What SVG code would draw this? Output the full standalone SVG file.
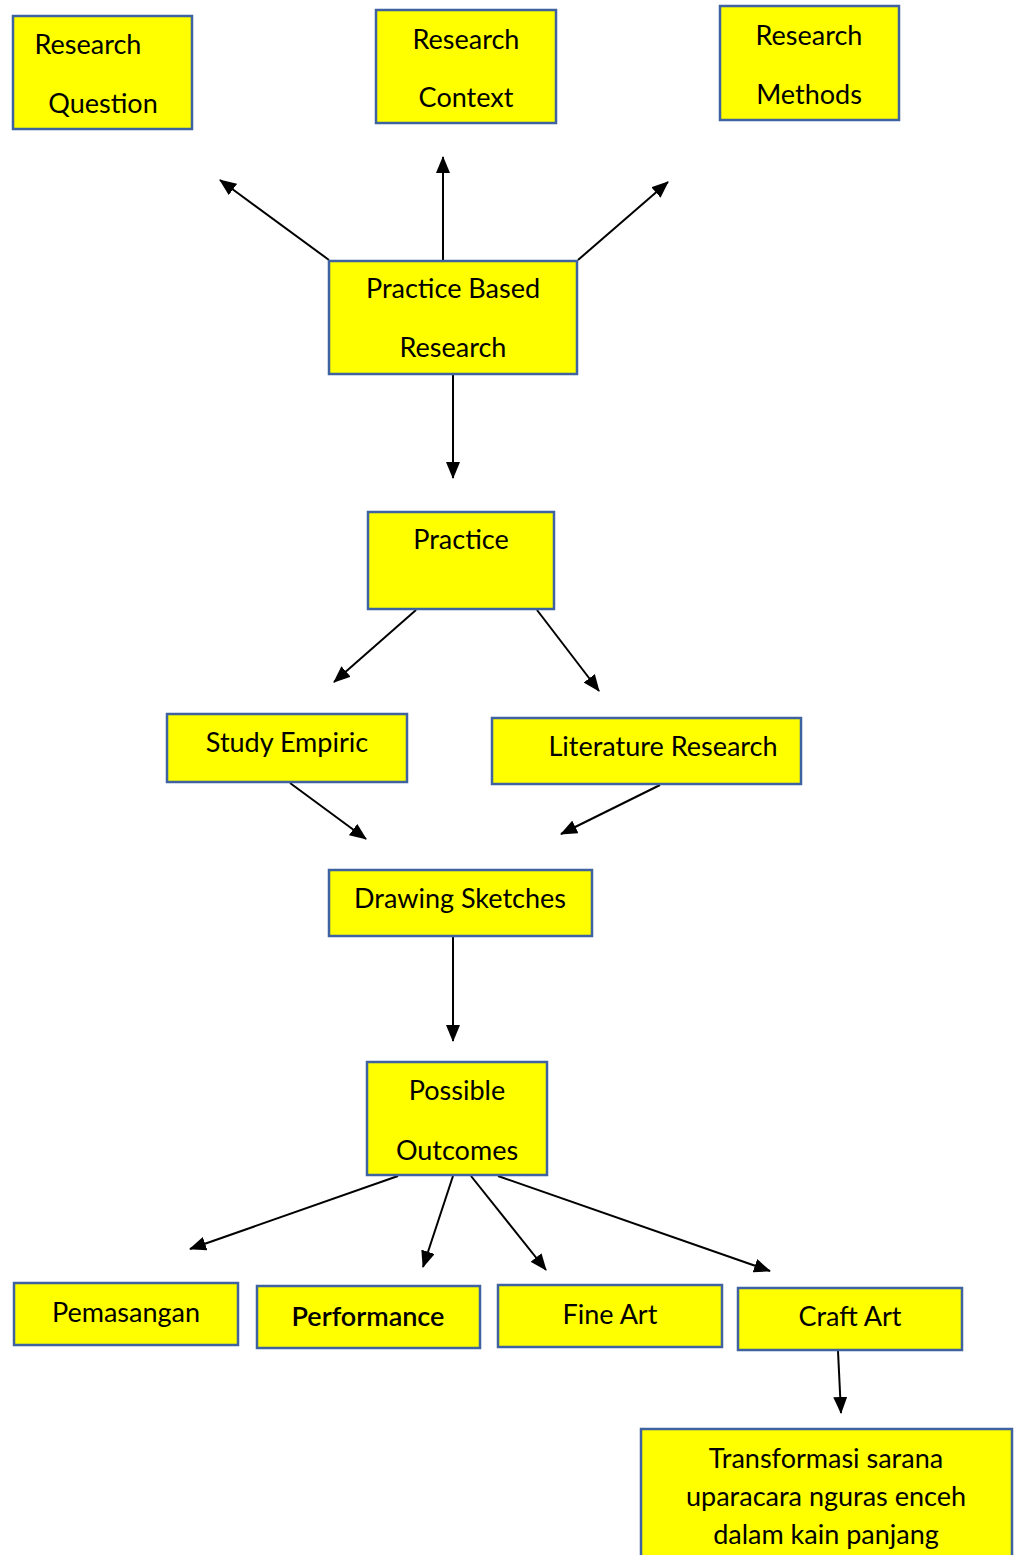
<svg xmlns="http://www.w3.org/2000/svg" width="1014" height="1555" viewBox="0 0 1014 1555">
<defs>
<style>
.box{fill:#ffff00;stroke:#3f62a0;stroke-width:2.5}
.t{font-family:Lato,"Liberation Sans",sans-serif;font-size:27px;fill:#000;text-anchor:middle}
.c{stroke:#000;stroke-width:2;fill:none;marker-end:url(#ah)}
</style>
<marker id="ah" markerUnits="userSpaceOnUse" markerWidth="17" markerHeight="14" refX="16" refY="7" orient="auto">
<path d="M0,0 L17,7 L0,14 Z" fill="#000"/>
</marker>
</defs>
<rect width="1014" height="1555" fill="#fff"/>
<g id="connectors">
<line class="c" x1="329" y1="260" x2="220" y2="180"/>
<line class="c" x1="443" y1="260" x2="443" y2="157"/>
<line class="c" x1="578" y1="260" x2="668" y2="182"/>
<line class="c" x1="453" y1="375" x2="453" y2="478"/>
<line class="c" x1="416" y1="610" x2="334" y2="682"/>
<line class="c" x1="537" y1="610" x2="599" y2="691"/>
<line class="c" x1="290" y1="783" x2="366" y2="839"/>
<line class="c" x1="660" y1="785" x2="561" y2="834"/>
<line class="c" x1="453" y1="937" x2="453" y2="1041"/>
<line class="c" x1="398" y1="1176" x2="190" y2="1249"/>
<line class="c" x1="453" y1="1176" x2="423" y2="1267"/>
<line class="c" x1="471" y1="1176" x2="546" y2="1270"/>
<line class="c" x1="498" y1="1176" x2="770" y2="1271"/>
<line class="c" x1="838" y1="1351" x2="841" y2="1413"/>
</g>
<g id="research-question">
<rect class="box" x="13" y="16" width="179" height="113"/>
<text class="t" x="88" y="54">Research</text>
<text class="t" x="103" y="113">Question</text>
</g>
<g id="research-context">
<rect class="box" x="376" y="10" width="180" height="113"/>
<text class="t" x="466" y="49">Research</text>
<text class="t" x="466" y="107">Context</text>
</g>
<g id="research-methods">
<rect class="box" x="720" y="6" width="179" height="114"/>
<text class="t" x="809" y="45">Research</text>
<text class="t" x="809" y="104">Methods</text>
</g>
<g id="practice-based-research">
<rect class="box" x="329" y="261" width="248" height="113"/>
<text class="t" x="453" y="298">Practice Based</text>
<text class="t" x="453" y="357">Research</text>
</g>
<g id="practice">
<rect class="box" x="368" y="512" width="186" height="97"/>
<text class="t" x="461" y="549">Practice</text>
</g>
<g id="study-empiric">
<rect class="box" x="167" y="714" width="240" height="68"/>
<text class="t" x="287" y="752">Study Empiric</text>
</g>
<g id="literature-research">
<rect class="box" x="492" y="718" width="309" height="66"/>
<text class="t" x="663" y="756">Literature Research</text>
</g>
<g id="drawing-sketches">
<rect class="box" x="329" y="870" width="263" height="66"/>
<text class="t" x="460" y="908">Drawing Sketches</text>
</g>
<g id="possible-outcomes">
<rect class="box" x="367" y="1062" width="180" height="113"/>
<text class="t" x="457" y="1100">Possible</text>
<text class="t" x="457" y="1160">Outcomes</text>
</g>
<g id="pemasangan">
<rect class="box" x="14" y="1283" width="224" height="62"/>
<text class="t" x="126" y="1322">Pemasangan</text>
</g>
<g id="performance">
<rect class="box" x="257" y="1286" width="223" height="62"/>
<text class="t" x="368" y="1326" style="font-weight:600">Performance</text>
</g>
<g id="fine-art">
<rect class="box" x="498" y="1285" width="224" height="62"/>
<text class="t" x="610" y="1324">Fine Art</text>
</g>
<g id="craft-art">
<rect class="box" x="738" y="1288" width="224" height="62"/>
<text class="t" x="850" y="1326">Craft Art</text>
</g>
<g id="transformasi">
<rect class="box" x="641" y="1429" width="371" height="140"/>
<text class="t" x="826" y="1468">Transformasi sarana</text>
<text class="t" x="826" y="1506">uparacara nguras enceh</text>
<text class="t" x="826" y="1544">dalam kain panjang</text>
</g>
</svg>
